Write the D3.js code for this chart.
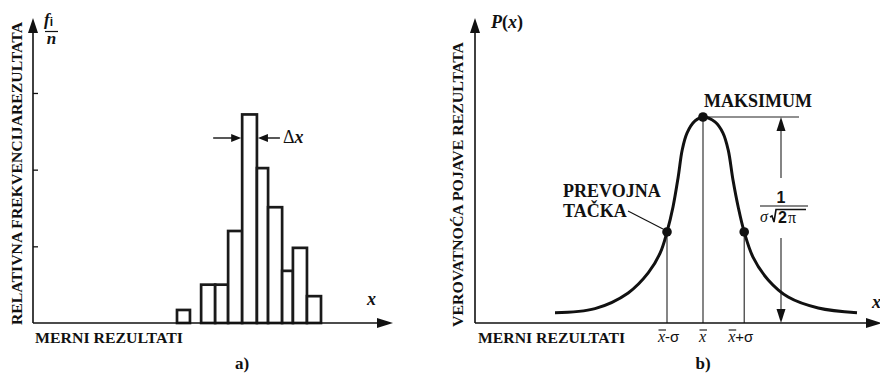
<!DOCTYPE html>
<html>
<head>
<meta charset="utf-8">
<script src="https://cdn.jsdelivr.net/npm/d3@7"></script>
<style>
  body { margin: 0; background: #fff; }
  svg { display: block; }
  text { fill: #111; }
</style>
</head>
<body>
<script>
// --- data ---
// a) histogram: bin edges (x units) and relative frequency f_i/n
var binStart = [40, 46.7, 50.6, 54.2, 58.1, 62.2, 65.3, 69.2, 72.2, 76.1];
var binEnd   = [43.6, 50.6, 54.2, 58.1, 62.2, 65.3, 69.2, 72.2, 76.1, 80];
var relFreq  = [0.17, 0.5, 0.5, 1.2, 2.72, 2.02, 1.51, 0.68, 0.98, 0.35];
var freqTicks = [1, 2, 3];

// b) probability curve P(x), normalised to the maximum
var curveX = [20, 30, 38.3, 43.3, 46.3, 48, 49.5, 50.8, 51.8, 53, 55, 57,
              60, 62, 63.3, 64.5, 65.8, 67.3, 69.5, 73.3, 78.3, 85.8, 95.5];
var curveY = [0.05, 0.07, 0.146, 0.243, 0.34, 0.442, 0.563, 0.709, 0.84, 0.922, 0.981, 1,
              0.976, 0.922, 0.84, 0.694, 0.563, 0.442, 0.32, 0.209, 0.126, 0.073, 0.05];
var meanX = 57, lowX = 48, highX = 67.3;
var markLabels = ["-σ", "", "+σ"];

var W = 880, H = 373;
var serif = "'Liberation Serif', 'Times New Roman', serif";
var sans = "'Liberation Sans', Arial, sans-serif";

var svg = d3.select("body").append("svg")
    .attr("width", W)
    .attr("height", H);

function arrowHead(g, x, y, dir, len, half) {
    var p;
    if (dir === "up") p = [[x, y], [x - half, y + len], [x + half, y + len]];
    else if (dir === "down") p = [[x, y], [x - half, y - len], [x + half, y - len]];
    else if (dir === "right") p = [[x, y], [x - len, y - half], [x - len, y + half]];
    else p = [[x, y], [x + len, y - half], [x + len, y + half]];
    g.append("path").attr("d", "M" + p.join("L") + "Z").attr("fill", "#111");
}

// ================= a) =================
var xL = d3.scaleLinear().domain([0, 100]).range([33, 393]);
var yL = d3.scaleLinear().domain([0, 4]).range([323, 16.3]);
var gA = svg.append("g");

gA.selectAll("rect.bar")
    .data(relFreq)
    .enter().append("rect")
    .attr("class", "bar")
    .attr("x", (d, i) => xL(binStart[i]))
    .attr("width", (d, i) => xL(binEnd[i]) - xL(binStart[i]))
    .attr("y", d => yL(d))
    .attr("height", d => yL(0) - yL(d))
    .attr("fill", "#fff")
    .attr("stroke", "#1a1a1a")
    .attr("stroke-width", 2.7);

// y ticks pointing inward
var yAxisL = d3.axisLeft(yL).tickValues(freqTicks).tickSize(-5).tickFormat("");
gA.append("g").attr("transform", "translate(" + xL(0) + ",0)").call(yAxisL)
    .call(g => g.select(".domain").remove())
    .selectAll("line").attr("stroke", "#111").attr("stroke-width", 1.3);

// axes with arrows
gA.append("line").attr("x1", xL(0)).attr("x2", xL(0)).attr("y1", yL(0)).attr("y2", 30)
    .attr("stroke", "#111").attr("stroke-width", 1.6);
arrowHead(gA, xL(0), 18, "up", 15, 5);
gA.append("line").attr("x1", xL(0)).attr("x2", 380).attr("y1", yL(0)).attr("y2", yL(0))
    .attr("stroke", "#111").attr("stroke-width", 1.6);
arrowHead(gA, 393, yL(0), "right", 16, 5);

// delta x marker on the tallest bar
var peak = relFreq.indexOf(d3.max(relFreq));
var dxY = 138;
var bl = xL(binStart[peak]), br = xL(binEnd[peak]);
gA.append("line").attr("x1", bl - 29).attr("x2", bl - 8).attr("y1", dxY).attr("y2", dxY)
    .attr("stroke", "#111").attr("stroke-width", 1.4);
arrowHead(gA, bl - 1, dxY, "right", 10, 4);
gA.append("line").attr("x1", br + 23).attr("x2", br + 8).attr("y1", dxY).attr("y2", dxY)
    .attr("stroke", "#111").attr("stroke-width", 1.4);
arrowHead(gA, br + 1, dxY, "left", 10, 4);
var dxt = gA.append("text").attr("x", br + 26).attr("y", dxY + 5)
    .attr("font-family", serif).attr("font-size", 18);
dxt.append("tspan").text("Δ");
dxt.append("tspan").attr("font-style", "italic").attr("font-weight", "bold").text("x");

// labels
gA.append("text")
    .attr("transform", "translate(22,325) rotate(-90)")
    .attr("font-family", serif).attr("font-weight", "bold").attr("font-size", 15.5)
    .attr("textLength", 303).attr("lengthAdjust", "spacingAndGlyphs")
    .text("RELATIVNA FREKVENCIJAREZULTATA");

var fi = gA.append("text").attr("x", 44).attr("y", 25)
    .attr("font-family", serif).attr("font-weight", "bold").attr("font-size", 17);
fi.append("tspan").attr("font-style", "italic").text("f");
fi.append("tspan").attr("font-family", sans).attr("font-size", 12).attr("dy", 1).text("i");
gA.append("line").attr("x1", 45).attr("x2", 58).attr("y1", 31.5).attr("y2", 31.5)
    .attr("stroke", "#111").attr("stroke-width", 1.2);
gA.append("text").attr("x", 51.5).attr("y", 44).attr("text-anchor", "middle")
    .attr("font-family", serif).attr("font-weight", "bold").attr("font-style", "italic")
    .attr("font-size", 17).text("n");

gA.append("text").attr("x", 367).attr("y", 305)
    .attr("font-family", serif).attr("font-weight", "bold").attr("font-style", "italic")
    .attr("font-size", 18).text("x");

gA.append("text").attr("x", 35).attr("y", 343)
    .attr("font-family", serif).attr("font-weight", "bold").attr("font-size", 15.5)
    .attr("textLength", 148).attr("lengthAdjust", "spacingAndGlyphs")
    .text("MERNI REZULTATI");

gA.append("text").attr("x", 242).attr("y", 369).attr("text-anchor", "middle")
    .attr("font-family", serif).attr("font-weight", "bold").attr("font-size", 17)
    .text("a)");

// ================= b) =================
var xR = d3.scaleLinear().domain([0, 100]).range([475, 875]);
var yR = d3.scaleLinear().domain([0, 1]).range([323, 117]);
var gB = svg.append("g");

var pts = curveX.map((x, i) => [x, curveY[i]]);
var line = d3.line().x(d => xR(d[0])).y(d => yR(d[1])).curve(d3.curveCatmullRom.alpha(0.5));
var valAt = x => pts.find(p => p[0] === x)[1];
var marks = [lowX, meanX, highX];

// vertical drop lines
gB.selectAll("line.drop")
    .data(marks)
    .enter().append("line")
    .attr("class", "drop")
    .attr("x1", d => xR(d)).attr("x2", d => xR(d))
    .attr("y1", d => yR(valAt(d))).attr("y2", yR(0))
    .attr("stroke", "#222").attr("stroke-width", 1.1);

// max level line + 1/(σ√2π) dimension arrow
var dimX = xR(76.5);
gB.append("line").attr("x1", xR(meanX)).attr("x2", xR(81)).attr("y1", yR(1)).attr("y2", yR(1))
    .attr("stroke", "#222").attr("stroke-width", 1.1);
gB.append("line").attr("x1", dimX).attr("x2", dimX).attr("y1", yR(1) + 10).attr("y2", 178)
    .attr("stroke", "#333").attr("stroke-width", 1.2);
gB.append("line").attr("x1", dimX).attr("x2", dimX).attr("y1", 238).attr("y2", yR(0) - 10)
    .attr("stroke", "#333").attr("stroke-width", 1.2);
arrowHead(gB, dimX, yR(1), "up", 14, 4.5);
arrowHead(gB, dimX, yR(0), "down", 14, 4.5);

gB.append("text").attr("x", dimX).attr("y", 203).attr("text-anchor", "middle")
    .attr("font-family", sans).attr("font-weight", "bold").attr("font-size", 16).text("1");
gB.append("line").attr("x1", dimX - 21).attr("x2", dimX + 27).attr("y1", 206).attr("y2", 206)
    .attr("stroke", "#111").attr("stroke-width", 1.2);
gB.append("text").attr("x", dimX - 21).attr("y", 222)
    .attr("font-family", serif).attr("font-style", "italic").attr("font-size", 16).text("σ");
gB.append("path")
    .attr("d", "M" + (dimX - 11) + ",217 L" + (dimX - 9) + ",216 L" + (dimX - 7) + ",222 L"
        + (dimX - 5) + ",209.5 L" + (dimX + 25) + ",209.5")
    .attr("fill", "none").attr("stroke", "#111").attr("stroke-width", 1.6);
gB.append("text").attr("x", dimX - 3).attr("y", 223)
    .attr("font-family", sans).attr("font-weight", "bold").attr("font-size", 16).text("2");
gB.append("text").attr("x", dimX + 7).attr("y", 223)
    .attr("font-family", serif).attr("font-size", 16).text("π");

// curve
gB.append("path").datum(pts)
    .attr("d", line)
    .attr("fill", "none")
    .attr("stroke", "#111")
    .attr("stroke-width", 3);

gB.selectAll("circle")
    .data(marks)
    .enter().append("circle")
    .attr("cx", d => xR(d)).attr("cy", d => yR(valAt(d)))
    .attr("r", 4.8).attr("fill", "#111");

// axes with arrows
gB.append("line").attr("x1", xR(0)).attr("x2", xR(0)).attr("y1", yR(0)).attr("y2", 30)
    .attr("stroke", "#111").attr("stroke-width", 1.6);
arrowHead(gB, xR(0), 18, "up", 15, 5);
gB.append("line").attr("x1", xR(0)).attr("x2", 868).attr("y1", yR(0)).attr("y2", yR(0))
    .attr("stroke", "#111").attr("stroke-width", 1.6);
arrowHead(gB, 882, yR(0), "right", 16, 5);

// x mark labels: x̄-σ, x̄, x̄+σ
var offs = [-9, -4, -16];
marks.forEach((m, i) => {
    var x0 = xR(m) + offs[i];
    var t = gB.append("text").attr("x", x0).attr("y", 342)
        .attr("font-size", 16);
    t.append("tspan").attr("font-family", serif).attr("font-style", "italic").text("x");
    if (markLabels[i]) t.append("tspan").attr("font-family", sans).attr("font-size", 15).text(markLabels[i]);
    gB.append("line").attr("x1", x0 + 0.5).attr("x2", x0 + 8).attr("y1", 330).attr("y2", 330)
        .attr("stroke", "#111").attr("stroke-width", 1.1);
});

// labels
gB.append("text").attr("x", xR(meanX) + 1).attr("y", 107)
    .attr("font-family", serif).attr("font-weight", "bold").attr("font-size", 18)
    .text("MAKSIMUM");
gB.append("text").attr("x", 563).attr("y", 197)
    .attr("font-family", serif).attr("font-weight", "bold").attr("font-size", 18)
    .text("PREVOJNA");
gB.append("text").attr("x", 563).attr("y", 217)
    .attr("font-family", serif).attr("font-weight", "bold").attr("font-size", 18)
    .text("TAČKA");
gB.append("line").attr("x1", 628).attr("y1", 211).attr("x2", xR(lowX) - 4).attr("y2", yR(valAt(lowX)) - 3)
    .attr("stroke", "#111").attr("stroke-width", 1.1);

gB.append("text")
    .attr("transform", "translate(463,327) rotate(-90)")
    .attr("font-family", serif).attr("font-weight", "bold").attr("font-size", 15.5)
    .attr("textLength", 285).attr("lengthAdjust", "spacingAndGlyphs")
    .text("VEROVATNOĆA POJAVE REZULTATA");

var px = gB.append("text").attr("x", 491).attr("y", 28)
    .attr("font-family", serif).attr("font-weight", "bold").attr("font-size", 18);
px.append("tspan").attr("font-style", "italic").text("P");
px.append("tspan").text("(");
px.append("tspan").attr("font-style", "italic").text("x");
px.append("tspan").text(")");

gB.append("text").attr("x", 872).attr("y", 308)
    .attr("font-family", serif).attr("font-weight", "bold").attr("font-style", "italic")
    .attr("font-size", 18).text("x");

gB.append("text").attr("x", 478).attr("y", 343)
    .attr("font-family", serif).attr("font-weight", "bold").attr("font-size", 15.5)
    .attr("textLength", 147).attr("lengthAdjust", "spacingAndGlyphs")
    .text("MERNI REZULTATI");

gB.append("text").attr("x", xR(meanX)).attr("y", 369).attr("text-anchor", "middle")
    .attr("font-family", serif).attr("font-weight", "bold").attr("font-size", 17)
    .text("b)");
</script>
</body>
</html>
